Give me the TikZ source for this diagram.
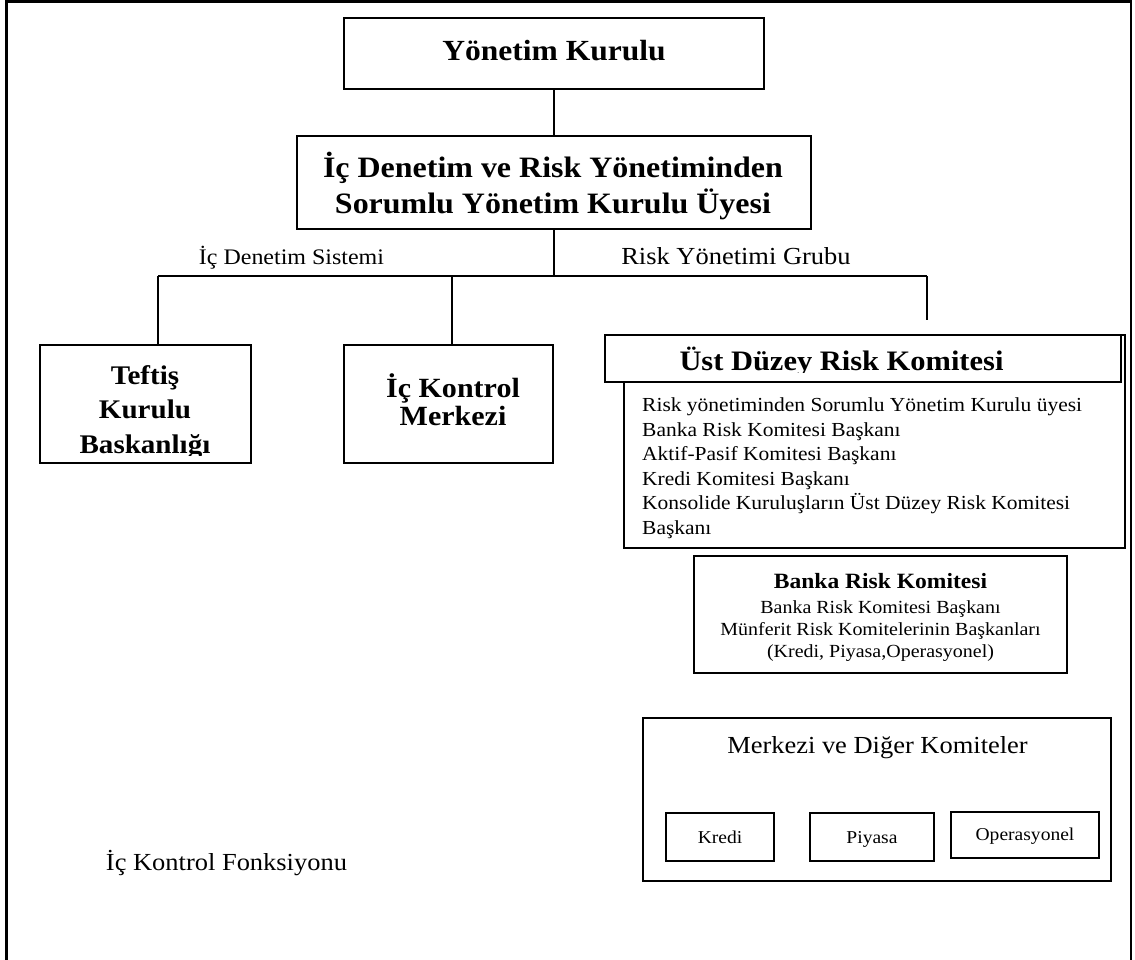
\documentclass[tikz,border=0pt]{standalone}
\usepackage{fontspec}
\setmainfont{Liberation Serif}[FakeStretch=1.08]
\newcommand\fsz[2]{\fontsize{#1}{#2}\selectfont}
% invisible strut: 1em above the baseline, 0.3em below
\newcommand\tstrut{\rule[-0.3em]{0pt}{1.3em}}
\lineskiplimit=-100pt
\begin{document}
\begin{tikzpicture}[x=1pt, y=-1pt,
  box/.style={draw, line width=1.8pt, inner sep=0pt, fill=white},
  wire/.style={line width=1.3pt},
  txt/.style={inner sep=0pt, anchor=north, align=center},
  ltxt/.style={inner sep=0pt, anchor=north west, align=left}]
\path[use as bounding box, fill=white] (0,0) rectangle (1135,959);

% outer frame, open at the bottom
\draw[line width=2.4pt] (6.5,965) -- (6.5,1.5) -- (1131,1.5) -- (1131,965);

% board of directors
\node[box, minimum width=420, minimum height=71,
      font=\fsz{29.2}{36}\bfseries, text height=29.2pt, text depth=16.2pt]
      (yk) at (554,53.5) {Yönetim Kurulu};

% responsible board member
\node[box, minimum width=514, minimum height=93] (ic) at (554,182.5) {};
\node[txt, font=\fsz{29.6}{36}\bfseries] (icT) at (553,147.4)
  {\tstrut İç Denetim ve Risk Yönetiminden\\\tstrut Sorumlu Yönetim Kurulu Üyesi};

% branch labels
\node[txt, font=\fsz{22.2}{26}] (lblIc) at (291.5,241.8) {\tstrut İç Denetim Sistemi};
\node[txt, font=\fsz{24.5}{28}] (lblRisk) at (736,239.5) {\tstrut Risk Yönetimi Grubu};

% inspection board
\node[box, minimum width=211, minimum height=118] (teftis) at (145.5,404) {};
\begin{scope}
  \clip (38,340) rectangle (253,455);
  \node[txt, font=\fsz{26.9}{34.5}\bfseries] (teftisT) at (145,357.1)
    {\tstrut Teftiş\\\tstrut Kurulu\\\tstrut Baskanlığı};
\end{scope}

% internal control centre
\node[box, minimum width=209, minimum height=118] (kontrol) at (448.5,404) {};
\node[txt, font=\fsz{27.8}{28}\bfseries] (kontrolT) at (453,369.2)
  {\tstrut İç Kontrol\\\tstrut Merkezi};

% senior risk committee
\node[box, minimum width=501, minimum height=213] (ustBody) at (874.5,441.5) {};
\node[box, minimum width=516, minimum height=47] (ustHead) at (863,358.5) {};
\begin{scope}
  \clip (600,330) rectangle (1125,372);
  \node[txt, font=\fsz{28.2}{32}\bfseries] (ustHeadT) at (841.5,341.8)
    {\tstrut Üst Düzey Risk Komitesi};
\end{scope}
\node[ltxt, font=\fsz{19.9}{24.5}] (ustList) at (642,391.6)
  {\tstrut Risk yönetiminden Sorumlu Yönetim Kurulu üyesi\\
   \tstrut Banka Risk Komitesi Başkanı\\
   \tstrut Aktif-Pasif Komitesi Başkanı\\
   \tstrut Kredi Komitesi Başkanı\\
   \tstrut Konsolide Kuruluşların Üst Düzey Risk Komitesi\\
   \tstrut Başkanı};

% bank risk committee
\node[box, minimum width=373, minimum height=117] (banka) at (880.5,614.5) {};
\node[txt, font=\fsz{21.8}{25}\bfseries] (bankaT) at (880.5,566.2)
  {\tstrut Banka Risk Komitesi};
\node[txt, font=\fsz{18.5}{22}] (bankaL) at (880.5,594.5)
  {\tstrut Banka Risk Komitesi Başkanı\\
   \tstrut Münferit Risk Komitelerinin Başkanları\\
   \tstrut (Kredi, Piyasa,Operasyonel)};

% central and other committees
\node[box, minimum width=468, minimum height=163] (merkezi) at (877,799.5) {};
\node[txt, font=\fsz{24.5}{28}] (merkeziT) at (877.5,728.5)
  {\tstrut Merkezi ve Diğer Komiteler};
\node[box, minimum width=108, minimum height=48, font=\fsz{18.1}{22},
      text height=18.1pt, text depth=6.1pt] (kredi) at (720,837) {Kredi};
\node[box, minimum width=124, minimum height=48, font=\fsz{18.1}{22},
      text height=18.1pt, text depth=6.1pt] (piyasa) at (872,837) {Piyasa};
\node[box, minimum width=148, minimum height=46, font=\fsz{18.1}{22},
      text height=18.1pt, text depth=8.1pt] (oper) at (1025,835) {Operasyonel};

% internal control function
\node[txt, font=\fsz{24.5}{28}] (fonk) at (226.5,845.5) {\tstrut İç Kontrol Fonksiyonu};

% connectors
\coordinate (hub) at (554,276);
\coordinate (lt) at (158,276);
\coordinate (mt) at (452,276);
\coordinate (rt) at (927,276);
\coordinate (rend) at (927,320);
\draw[wire] (yk.south) -- (ic.north);
\draw[wire] (ic.south) -- (hub);
\draw[wire] (lt) -- (rt);
\draw[wire] (lt) -- (lt |- teftis.north);
\draw[wire] (mt) -- (mt |- kontrol.north);
\draw[wire] (rt) -- (rend);
\end{tikzpicture}
\end{document}
